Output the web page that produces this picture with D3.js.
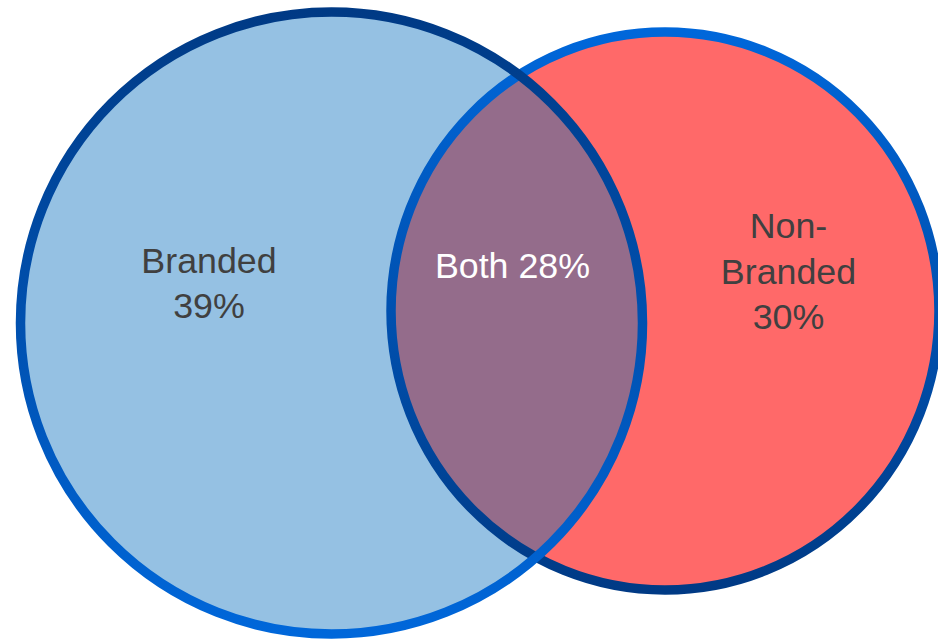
<!DOCTYPE html>
<html>
<head>
<meta charset="utf-8">
<script src="https://cdn.jsdelivr.net/npm/d3@7"></script>
<style>
  html, body { margin: 0; padding: 0; background: #ffffff; }
  svg { display: block; }
</style>
</head>
<body>
<div id="chart"></div>
<script>
// Segment shares of the two-set Venn diagram
const segmentNames = ["Branded", "Both", "Non-Branded"];
const segmentValues = [39, 28, 30];
const segmentLines = [["Branded", "39%"], ["Both 28%"], ["Non-", "Branded", "30%"]];

// Set totals (exclusive share + shared share)
const setNames = ["Branded", "Non-Branded"];
const setTotals = [segmentValues[0] + segmentValues[1], segmentValues[2] + segmentValues[1]];

const width = 938, height = 639;

// Radius scale: maps set total to drawn vertical radius
const rScale = d3.scaleLinear().domain([58, 67]).range([279, 311]);

// Shape layout (centres in pixel space, horizontal squash per shape)
const shapes = [
  { name: setNames[0], total: setTotals[0], cx: 331.5, cy: 323, squash: 1.0, fill: "#95C1E3", grad: "gradBranded" },
  { name: setNames[1], total: setTotals[1], cx: 665, cy: 311, squash: 0.982, fill: "#FF6969", grad: "gradNonBranded" }
];
shapes.forEach(s => { s.ry = rScale(s.total); s.rx = s.ry * s.squash; });

const svg = d3.select("#chart").append("svg")
  .attr("width", width)
  .attr("height", height);

const defs = svg.append("defs");

// Outline gradients: Branded dark at top -> bright at bottom, Non-Branded the reverse
const gradStops = {
  gradBranded: ["#003A85", "#0067DA"],
  gradNonBranded: ["#0067DA", "#003A85"]
};
Object.entries(gradStops).forEach(([id, cols]) => {
  const g = defs.append("linearGradient").attr("id", id)
    .attr("x1", 0).attr("y1", 0).attr("x2", 0).attr("y2", 1);
  g.append("stop").attr("offset", "0%").attr("stop-color", cols[0]);
  g.append("stop").attr("offset", "100%").attr("stop-color", cols[1]);
});

const place = sel => sel
  .attr("cx", d => d.cx).attr("cy", d => d.cy)
  .attr("rx", d => d.rx).attr("ry", d => d.ry);

// Clip to the Branded shape for the overlap lens
defs.append("clipPath").attr("id", "clipBranded")
  .selectAll("ellipse").data([shapes[0]]).join("ellipse").call(place);

// Fills: Non-Branded first, Branded over it
svg.append("g").selectAll("ellipse")
  .data([shapes[1], shapes[0]])
  .join("ellipse")
  .call(place)
  .attr("fill", d => d.fill);

// Overlap region
svg.append("g").attr("clip-path", "url(#clipBranded)")
  .selectAll("ellipse").data([shapes[1]]).join("ellipse")
  .call(place)
  .attr("fill", "#946C8B");

// Outlines: Non-Branded under Branded
svg.append("g").selectAll("ellipse")
  .data([shapes[1], shapes[0]])
  .join("ellipse")
  .call(place)
  .attr("fill", "none")
  .attr("stroke", d => `url(#${d.grad})`)
  .attr("stroke-width", 9.5);

// Segment labels
const labelPos = [
  { x: 209, y: 272.7, color: "#404040" },
  { x: 512.5, y: 277.7, color: "#ffffff" },
  { x: 788.5, y: 238.3, color: "#404040" }
];
const lineHeight = 45.4;

const labels = svg.append("g").selectAll("text")
  .data(segmentLines.map((lines, i) => ({ lines, name: segmentNames[i], pos: labelPos[i] })))
  .join("text")
  .attr("text-anchor", "middle")
  .attr("font-family", "Arial, 'Liberation Sans', sans-serif")
  .attr("font-size", 35.8)
  .attr("fill", d => d.pos.color)
  .attr("x", d => d.pos.x)
  .attr("y", d => d.pos.y);

labels.selectAll("tspan")
  .data(d => d.lines.map((t, j) => ({ t, j, x: d.pos.x, y: d.pos.y })))
  .join("tspan")
  .attr("x", d => d.x)
  .attr("y", d => d.y + d.j * lineHeight)
  .text(d => d.t);
</script>
</body>
</html>
